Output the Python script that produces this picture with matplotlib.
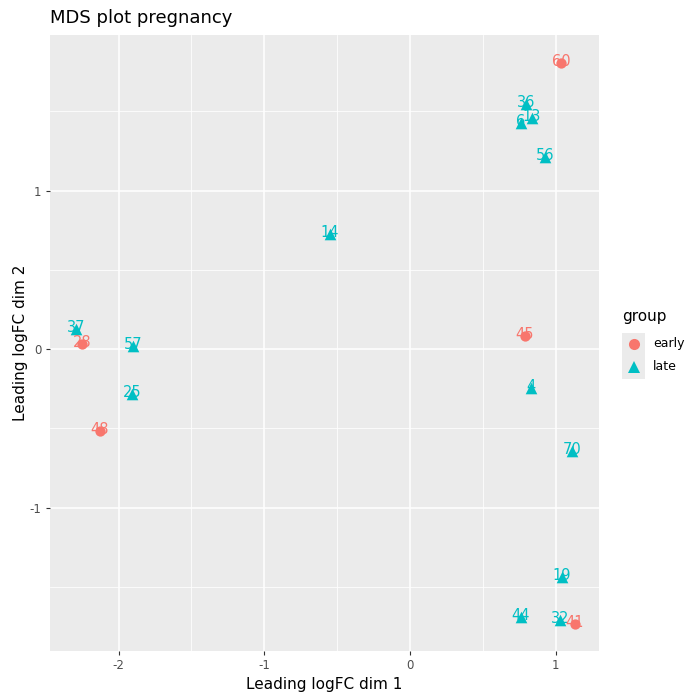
import matplotlib.pyplot as plt
from matplotlib.lines import Line2D
from matplotlib.patches import Rectangle

# sample labels, MDS coordinates and group
labels = ["60", "36", "13", "6", "56", "14", "37", "28", "57", "25", "48",
          "45", "4", "70", "19", "44", "32", "41"]
dim1 = [1.036, 0.796, 0.837, 0.762, 0.927, -0.549, -2.292, -2.251, -1.901,
        -1.908, -2.128, 0.789, 0.830, 1.112, 1.043, 0.762, 1.030, 1.132]
dim2 = [1.804, 1.546, 1.457, 1.426, 1.211, 0.726, 0.126, 0.032, 0.019,
        -0.284, -0.517, 0.082, -0.246, -0.644, -1.438, -1.691, -1.710, -1.735]
group = ["early", "late", "late", "late", "late", "late", "late", "early", "late",
         "late", "early", "early", "late", "late", "late", "late", "late", "early"]

colors = {"early": "#F8766D", "late": "#00BFC4"}
markers = {"early": "o", "late": "^"}

fig = plt.figure(figsize=(6.86, 6.93), dpi=100)
ax = fig.add_axes([50 / 686, 1 - 651 / 693, 549 / 686, 616 / 693])
ax.set_facecolor("#EBEBEB")

for g in ["early", "late"]:
    xs = [x for x, gg in zip(dim1, group) if gg == g]
    ys = [y for y, gg in zip(dim2, group) if gg == g]
    ax.scatter(xs, ys, s=55 if g == "early" else 70, c=colors[g],
               marker=markers[g], linewidths=0, zorder=3)

for lab, x, y, g in zip(labels, dim1, dim2, group):
    ax.annotate(lab, (x, y), xytext=(0, 1.2), textcoords="offset points",
                color=colors[g], fontsize=10.5, ha="center", va="center",
                zorder=4)

ax.set_xlim(-2.471, 1.297)
ax.set_ylim(-1.905, 1.981)
ax.set_xticks([-2, -1, 0, 1])
ax.set_xticklabels(["-2", "-1", "0", "1"])
ax.set_yticks([-1, 0, 1])
ax.set_yticklabels(["-1", "0", "1"])
ax.set_xticks([-1.5, -0.5, 0.5], minor=True)
ax.set_yticks([-1.5, -0.5, 0.5, 1.5], minor=True)
ax.grid(which="major", color="white", linewidth=1.1, zorder=0)
ax.grid(which="minor", color="white", linewidth=0.55, zorder=0)
ax.set_axisbelow(True)
ax.tick_params(which="major", length=3, color="#333333", labelsize=8.5,
               labelcolor="#4D4D4D", width=0.8, pad=3)
ax.tick_params(which="minor", length=0)
for spine in ax.spines.values():
    spine.set_visible(False)

ax.set_xlabel("Leading logFC dim 1", fontsize=11, labelpad=3)
ax.set_ylabel("Leading logFC dim 2", fontsize=11, labelpad=1)
fig.text(50 / 686, 1 - 18 / 693, "MDS plot pregnancy", fontsize=13,
         ha="left", va="center")

# legend, drawn by hand in ggplot style
fig.patches.append(Rectangle((622 / 686, 1 - 379 / 693), 23 / 686, 46 / 693,
                             transform=fig.transFigure, facecolor="#EBEBEB",
                             edgecolor="none", zorder=0))
fig.text(622 / 686, 1 - 317 / 693, "group", fontsize=11, ha="left", va="center")
for i, g in enumerate(["early", "late"]):
    yy = 1 - (344 + 23 * i) / 693
    fig.add_artist(Line2D([633.5 / 686], [yy], marker=markers[g], color=colors[g],
                          markersize=8 if g == "early" else 9, linestyle="none",
                          markeredgewidth=0, transform=fig.transFigure))
    fig.text(653 / 686, yy, g, fontsize=9, ha="left", va="center")

fig.savefig("out.png", dpi=100, facecolor="white")
